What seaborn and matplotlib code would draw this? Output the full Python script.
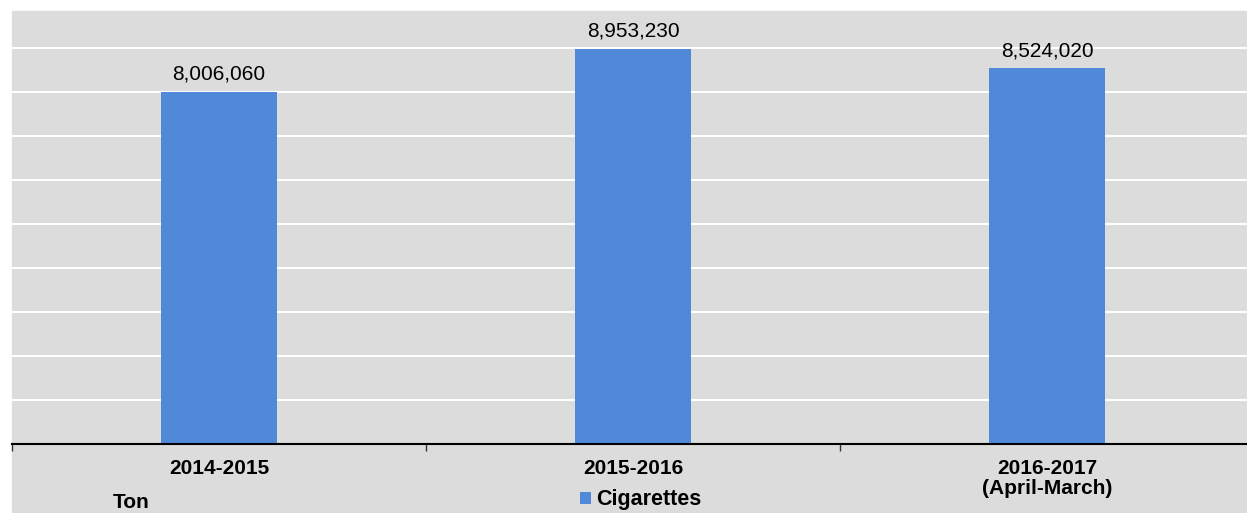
import matplotlib
matplotlib.use('Agg')
import matplotlib.pyplot as plt
from matplotlib.patches import Rectangle
import seaborn as sns
import numpy as np
import pandas as pd

# data
years = ['2014-2015', '2015-2016', '2016-2017\n(April-March)']
cigarettes = [8006060, 8953230, 8524020]
series_name = 'Cigarettes'
unit_label = 'Ton'

df = pd.DataFrame({'year': years, 'tons': cigarettes})

sns.set_style('white')
plt.rcParams['font.family'] = ['Liberation Sans', 'DejaVu Sans']
plt.rcParams['text.color'] = 'black'
plt.rcParams['xtick.color'] = 'black'

bg = '#dcdcdc'
bar_color = '#5089d8'

W, H = 1247, 513
fig = plt.figure(figsize=(W / 100, H / 100), dpi=100, facecolor='white')
# grey panel behind the chart
fig.patches.append(Rectangle((12 / W, 0), 1 - 12 / W, 1 - 11 / H,
                             transform=fig.transFigure, color=bg, zorder=-5))

ax = fig.add_axes([12 / W, 69 / H, 1242 / W, 433 / H])
ax.set_facecolor(bg)
ax.set_zorder(2)

sns.barplot(data=df, x='year', y='tons', color=bar_color, width=0.28,
            saturation=1, label=series_name, ax=ax, zorder=3,
            edgecolor=bar_color, linewidth=0)

ymin, ymax = 252500, 9790000
ax.set_ylim(ymin, ymax)
ax.set_xlim(-0.5, 2.5)
step = (ymax - ymin) * 44 / 433
ax.set_yticks(ymin + step * np.arange(1, 10))
ax.yaxis.grid(True, color='white', linewidth=1.5, zorder=1)
ax.set_axisbelow(True)
ax.set_yticklabels([])
ax.tick_params(axis='y', length=0)

for s in ['top', 'right', 'left']:
    ax.spines[s].set_visible(False)
ax.spines['bottom'].set_color('black')
ax.spines['bottom'].set_linewidth(1.5)
ax.spines['bottom'].set_zorder(5)

ax.set_xticks(range(len(years)))
ax.set_xticklabels(years, fontsize=15, fontweight='bold', linespacing=1.05,
                   color='black')
ax.tick_params(axis='x', length=0, pad=11)
ax.set_xticks([-0.5, 0.5, 1.5, 2.5], minor=True)
ax.tick_params(axis='x', which='minor', bottom=True, length=5, width=1,
               direction='out', color='#333333')
ax.set_xlabel('')
ax.set_ylabel('')

# value labels above bars
for i, v in enumerate(cigarettes):
    ax.annotate(f'{v:,}', (i, v), xytext=(0, 6), textcoords='offset points',
                ha='center', va='bottom', fontsize=15, color='black')

fig.text(113 / W, 1 - 502 / H, unit_label, fontsize=15, fontweight='bold',
         ha='left', va='center', color='black')

ax.legend(loc='center', bbox_to_anchor=(641 / W, 1 - 500 / H),
          bbox_transform=fig.transFigure, frameon=False,
          handlelength=0.5, handleheight=0.5, handletextpad=0.25,
          prop={'weight': 'bold', 'size': 15.5}, labelcolor='black')

fig.savefig('out.png', dpi=100, facecolor='white')
